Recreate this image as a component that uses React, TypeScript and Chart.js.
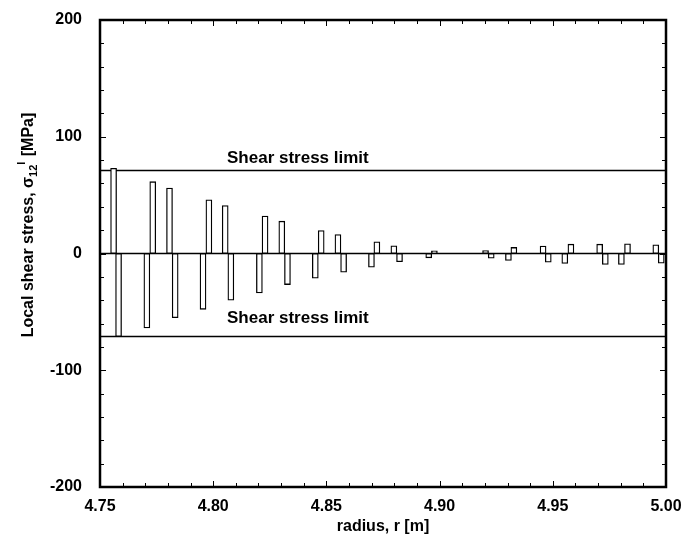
import React, { useEffect, useRef } from "react";
import { Chart, registerables } from "chart.js";

Chart.register(...registerables);

// radius positions [m] of each bar
const radii = [
  4.756, 4.7582, 4.7707, 4.7733, 4.7807, 4.7832, 4.7955, 4.7981, 4.8053, 4.8078,
  4.8204, 4.8229, 4.8303, 4.8328, 4.8451, 4.8477, 4.8551, 4.8576, 4.8699, 4.8723,
  4.8798, 4.8823, 4.8952, 4.8977, 4.9203, 4.9228, 4.9304, 4.9328, 4.9457, 4.948,
  4.9553, 4.958, 4.9707, 4.9732, 4.9803, 4.983, 4.9955, 4.9979,
];
// local shear stress [MPa]
const stress = [
  73, -71, -63.8, 61.5, 56, -55, -47.8, 46, 41, -40,
  -33.8, 32, 27.7, -26.6, -21.2, 19.7, 16.3, -16, -11.7, 10,
  6.6, -7.1, -3.7, 2.3, 2.6, -4, -6, 5.2, 6.3, -7.4,
  -8.6, 8, 8, -9.4, -9.4, 8.3, 7.4, -8.3,
];
const shearLimit = 71;
const xRange = [4.75, 5.0];
const yRange = [-200, 200];
const xMajorStep = 0.05;
const yMajorStep = 100;
const limitLabel = "Shear stress limit";
const xTitle = "radius, r [m]";

const FONT = "'Liberation Sans', Arial, Helvetica, sans-serif";

const framePlugin = {
  id: "frameTicks",
  afterDatasetsDraw(chart: any) {
    const { ctx, chartArea, scales } = chart;
    const { left, right, top, bottom } = chartArea;
    const x = scales.x;
    const y = scales.y;
    ctx.save();
    ctx.strokeStyle = "#000";
    ctx.lineWidth = 1;
    ctx.beginPath();
    for (let i = 0; i <= 25; i++) {
      const v = xRange[0] + i * 0.01;
      const px = Math.round(x.getPixelForValue(v)) + 0.5;
      const len = i % 5 === 0 ? 6 : 4;
      ctx.moveTo(px, bottom);
      ctx.lineTo(px, bottom - len);
      ctx.moveTo(px, top);
      ctx.lineTo(px, top + len);
    }
    for (let i = 0; i <= 20; i++) {
      const v = yRange[0] + i * 20;
      const py = Math.round(y.getPixelForValue(v)) + 0.5;
      const len = i % 5 === 0 ? 6 : 4;
      ctx.moveTo(left, py);
      ctx.lineTo(left + len, py);
      ctx.moveTo(right, py);
      ctx.lineTo(right - len, py);
    }
    ctx.stroke();
    ctx.lineWidth = 2.5;
    ctx.strokeRect(left, top, right - left, bottom - top);

    ctx.fillStyle = "#000";
    ctx.font = `bold 17px ${FONT}`;
    ctx.textAlign = "left";
    ctx.textBaseline = "alphabetic";
    ctx.fillText(limitLabel, x.getPixelForValue(4.8061), y.getPixelForValue(77.5));
    ctx.fillText(limitLabel, x.getPixelForValue(4.8061), y.getPixelForValue(-59.5));
    ctx.restore();
  },
  afterDraw(chart: any) {
    const { ctx } = chart;
    ctx.save();
    ctx.fillStyle = "#000";
    ctx.textBaseline = "alphabetic";
    ctx.textAlign = "left";
    const mainFont = `bold 16px ${FONT}`;
    const smallFont = `bold 11px ${FONT}`;
    const p1 = "Local shear stress, \u03c3";
    const sub = "12";
    const sup = "l";
    const p2 = " [MPa]";
    ctx.font = mainFont;
    const w1 = ctx.measureText(p1).width;
    const w4 = ctx.measureText(p2).width;
    ctx.font = smallFont;
    const w2 = ctx.measureText(sub).width;
    const w3 = ctx.measureText(sup).width;
    const total = w1 + w2 + w3 + 1 + w4;
    ctx.translate(33, 225);
    ctx.rotate(-Math.PI / 2);
    let cx = -total / 2;
    ctx.font = mainFont;
    ctx.fillText(p1, cx, 0);
    cx += w1;
    ctx.font = smallFont;
    ctx.fillText(sub, cx, 4);
    cx += w2;
    ctx.fillText(sup, cx, -8);
    cx += w3 + 1;
    ctx.font = mainFont;
    ctx.fillText(p2, cx, 0);
    ctx.restore();
  },
};

export default function App() {
  const ref = useRef<HTMLCanvasElement>(null);

  useEffect(() => {
    if (!ref.current) return;
    Chart.defaults.font.family = FONT;
    const lineData = (v: number) => [
      { x: xRange[0], y: v },
      { x: xRange[1], y: v },
    ];
    const lineStyle = {
      type: "line" as const,
      borderColor: "#000",
      borderWidth: 1.5,
      pointRadius: 0,
      fill: false,
    };
    const chart = new Chart(ref.current, {
      type: "bar",
      data: {
        datasets: [
          {
            type: "bar",
            data: radii.map((r, i) => ({ x: r, y: stress[i] })),
            backgroundColor: "#fff",
            borderColor: "#000",
            borderWidth: 1.3,
            borderSkipped: false,
            barThickness: 6,
          } as any,
          { ...lineStyle, data: lineData(shearLimit) } as any,
          { ...lineStyle, data: lineData(-shearLimit) } as any,
          { ...lineStyle, data: lineData(0) } as any,
        ],
      },
      options: {
        responsive: false,
        animation: false,
        layout: { padding: { top: 20, right: 17, left: 0, bottom: 0 } },
        plugins: {
          legend: { display: false },
          tooltip: { enabled: false },
          title: { display: false },
        },
        scales: {
          x: {
            type: "linear",
            min: xRange[0],
            max: xRange[1],
            offset: false,
            grid: { display: false, drawTicks: false },
            border: { display: false },
            ticks: {
              stepSize: xMajorStep,
              padding: 10,
              color: "#000",
              font: { size: 16, weight: "bold" },
              maxRotation: 0,
              autoSkip: false,
              callback: (v: any) => Number(v).toFixed(2),
            },
            title: {
              display: true,
              text: xTitle,
              color: "#000",
              font: { size: 16, weight: "bold" },
              padding: { top: 0, bottom: 0 },
            },
            afterFit: (s: any) => {
              s.height = 49;
              s.paddingLeft = 0;
              s.paddingRight = 0;
            },
          },
          y: {
            type: "linear",
            min: yRange[0],
            max: yRange[1],
            grid: { display: false, drawTicks: false },
            border: { display: false },
            ticks: {
              stepSize: yMajorStep,
              padding: 18,
              color: "#000",
              font: { size: 16, weight: "bold" },
            },
            afterFit: (s: any) => {
              s.width = 100;
              s.paddingTop = 0;
              s.paddingBottom = 0;
            },
          },
        },
      } as any,
      plugins: [framePlugin],
    });
    return () => chart.destroy();
  }, []);

  return (
    <div style={{ position: "absolute", left: 0, top: 0, width: 683, height: 536, background: "#fff" }}>
      <canvas ref={ref} width={683} height={536} style={{ display: "block" }} />
    </div>
  );
}
